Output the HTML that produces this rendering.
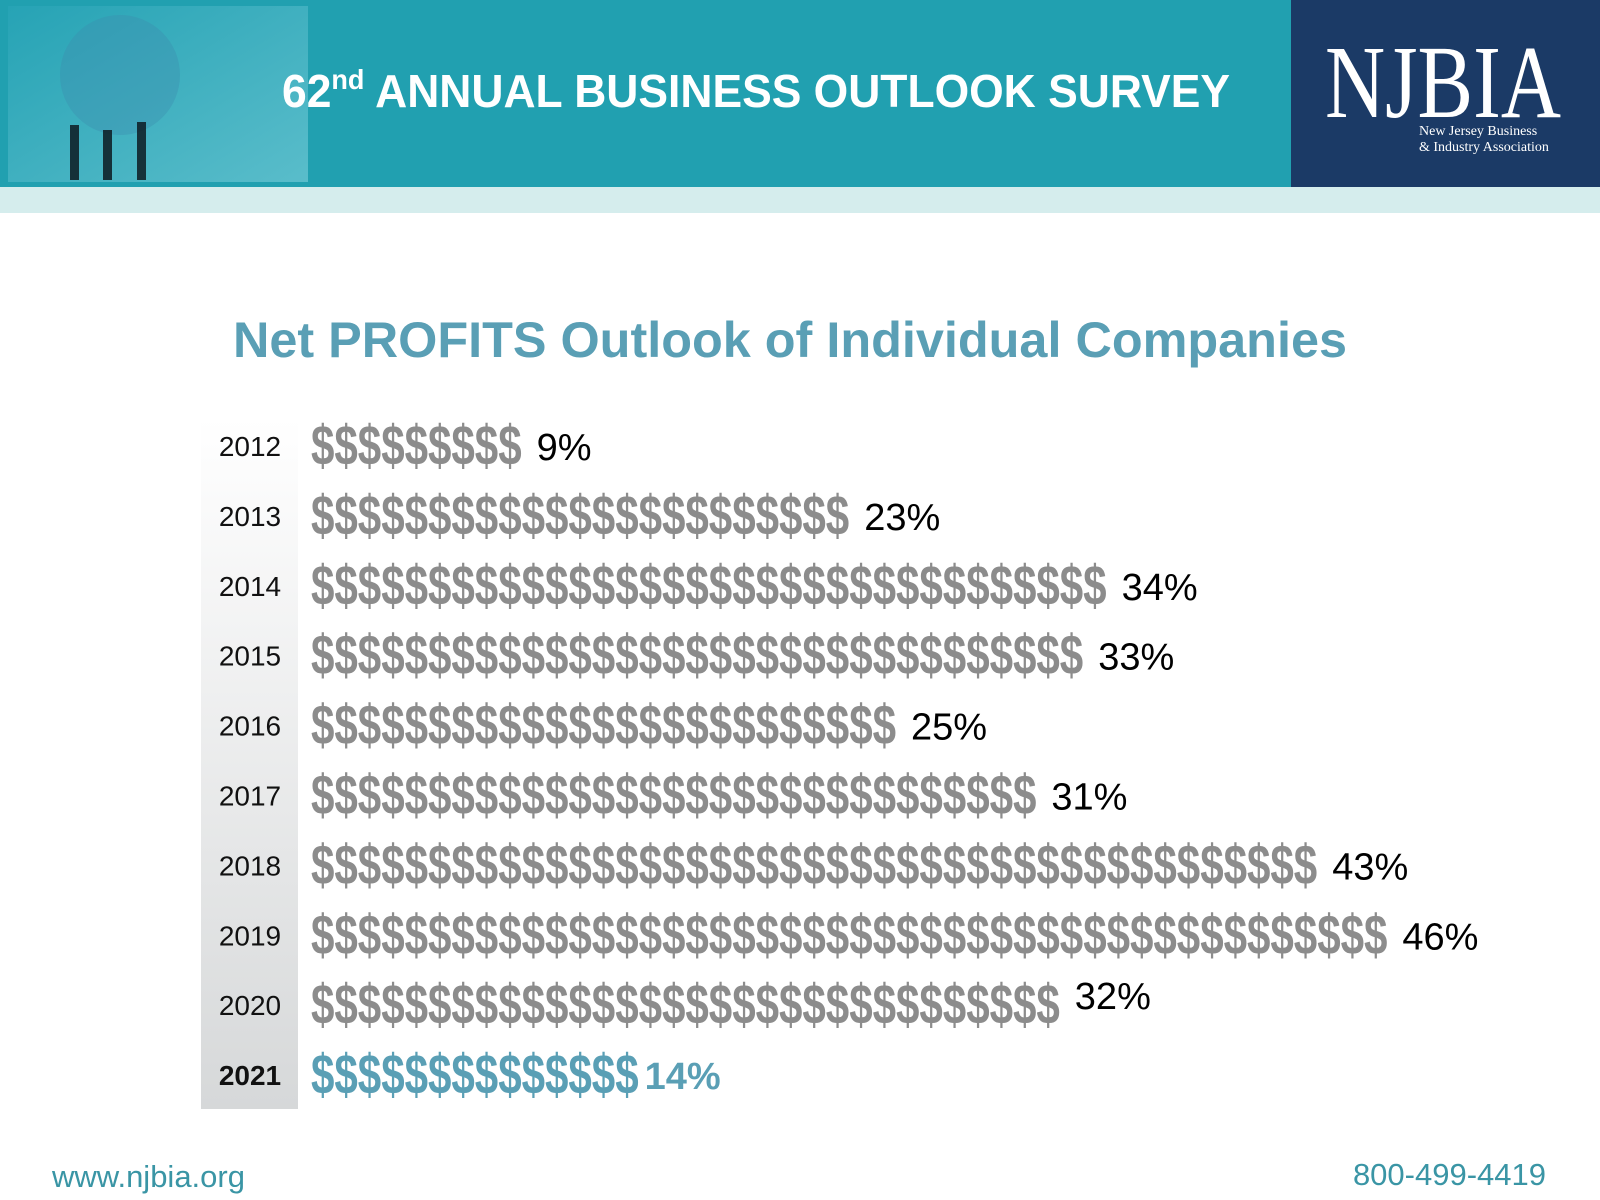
<!DOCTYPE html>
<html><head><meta charset="utf-8"><style>
html,body{margin:0;padding:0;background:#fff}
svg{display:block}
</style></head><body>
<svg id="chart" width="1600" height="1200" viewBox="0 0 1600 1200" font-family="Liberation Sans, sans-serif">
<defs>
<linearGradient id="colg" x1="0" y1="0" x2="0" y2="1"><stop offset="0" stop-color="#ffffff"/><stop offset="1" stop-color="#d6d8d9"/></linearGradient>
<linearGradient id="imgg" x1="0" y1="0" x2="1" y2="1"><stop offset="0" stop-color="#2aa5b8"/><stop offset="1" stop-color="#7fd0dc"/></linearGradient>
</defs>
<g>
<rect x="0" y="0" width="1291" height="187" fill="#21a0b0"/>
<rect x="8" y="6" width="300" height="176" fill="url(#imgg)" opacity="0.6"/>
<circle cx="120" cy="75" r="60" fill="#3c8fb0" opacity="0.4"/>
<g fill="#0d1b22" opacity="0.85">
<rect x="70" y="125" width="9" height="55"/><rect x="103" y="130" width="9" height="50"/><rect x="137" y="122" width="9" height="58"/>
</g>
<text x="282" y="107" fill="#fff" font-size="46" font-weight="bold" textLength="948" lengthAdjust="spacingAndGlyphs">62<tspan font-size="28" dy="-18">nd</tspan><tspan dy="18"> ANNUAL BUSINESS OUTLOOK SURVEY</tspan></text>
<rect x="1291" y="0" width="309" height="187" fill="#1b3a66"/>
<text x="1325" y="117" fill="#fff" style="font-family:'Liberation Serif',serif" font-size="104" textLength="236" lengthAdjust="spacingAndGlyphs">NJBIA</text>
<text x="1419" y="135" fill="#fff" style="font-family:'Liberation Serif',serif" font-size="14">New Jersey Business</text>
<text x="1419" y="151" fill="#fff" style="font-family:'Liberation Serif',serif" font-size="14">&amp; Industry Association</text>
<rect x="0" y="187" width="1600" height="26" fill="#d5eded"/>
</g>
<text x="233" y="357" fill="#5a9fb5" font-size="50" font-weight="bold" textLength="1114" lengthAdjust="spacingAndGlyphs">Net PROFITS Outlook of Individual Companies</text>
<rect x="201" y="418" width="97" height="691" fill="url(#colg)"/>
<g id="rows"></g>
<text x="52" y="1187" fill="#3a95a5" font-size="31">www.njbia.org</text>
<text x="1546" y="1185" fill="#3a95a5" font-size="31" text-anchor="end">800-499-4419</text>
</svg>
<script>
const years = ["2012","2013","2014","2015","2016","2017","2018","2019","2020","2021"];
const values = [9,23,34,33,25,31,43,46,32,14];
const labels = ["9%","23%","34%","33%","25%","31%","43%","46%","32%","14%"];

const NS = "http://www.w3.org/2000/svg";
const g = document.getElementById("rows");
const x0 = 311, unit = 23.4, y0 = 446, step = 69.9;
function xs(v){ return x0 + v*unit; }
function ys(i){ return y0 + i*step; }
years.forEach((yr,i)=>{
  const last = i === years.length-1;
  const cy = ys(i);
  const t = document.createElementNS(NS,"text");
  
  
  t.setAttribute("x", 250); t.setAttribute("y", cy+10);
  t.setAttribute("text-anchor","middle"); t.setAttribute("font-size","28");
  if(last) t.setAttribute("font-weight","bold");
  t.setAttribute("fill","#111"); t.textContent = yr; g.appendChild(t);

  const w = xs(values[i]) - x0;
  const grp = document.createElementNS(NS,"g");
  grp.setAttribute("transform","translate(0,"+(cy+19)+") scale(1,1.35)");
  const d = document.createElementNS(NS,"text");
  
  
  d.setAttribute("x", x0); d.setAttribute("y", 0);
  d.setAttribute("font-size","42"); d.setAttribute("font-weight","bold");
  d.setAttribute("fill", last ? "#5a9fb5" : "#8c8c8c");
  d.setAttribute("textLength", w); d.setAttribute("lengthAdjust","spacingAndGlyphs");
  d.textContent = "$".repeat(values[i]);
  grp.appendChild(d); g.appendChild(grp);

  const p = document.createElementNS(NS,"text");
  
  
  p.setAttribute("x", xs(values[i]) + (last ? 6 : 15));
  p.setAttribute("y", cy + 14 - (i===8 ? 10 : 0));
  p.setAttribute("font-size","38");
  if(last){ p.setAttribute("fill","#5a9fb5"); p.setAttribute("font-weight","bold"); }
  else p.setAttribute("fill","#000");
  p.textContent = labels[i]; g.appendChild(p);
});
</script>
</body></html>
